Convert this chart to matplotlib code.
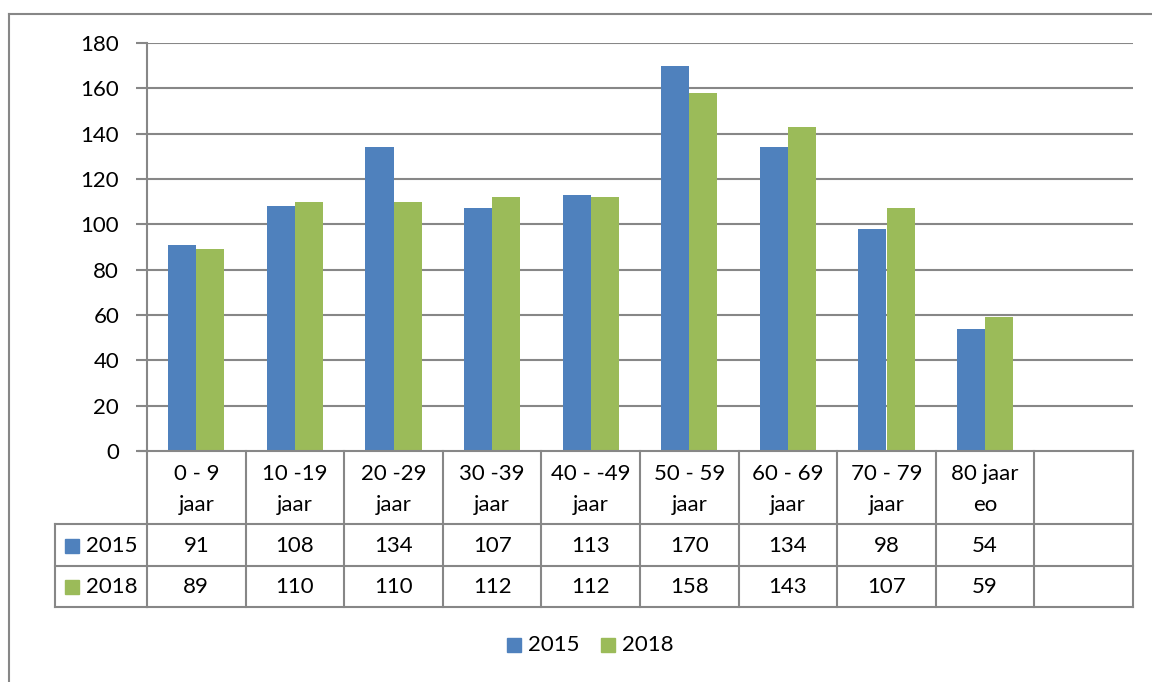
import matplotlib
matplotlib.use("Agg")
import matplotlib.pyplot as plt
from matplotlib.transforms import blended_transform_factory
from matplotlib.lines import Line2D
from matplotlib.patches import Rectangle

categories = ["0 - 9\njaar", "10 -19\njaar", "20 -29\njaar", "30 -39\njaar", "40 - -49\njaar",
              "50 - 59\njaar", "60 - 69\njaar", "70 - 79\njaar", "80 jaar\neo"]
v2015 = [91, 108, 134, 107, 113, 170, 134, 98, 54]
v2018 = [89, 110, 110, 112, 112, 158, 143, 107, 59]
series_names = ["2015", "2018"]
colors = ["#4F81BD", "#9BBB59"]
yticks = [0, 20, 40, 60, 80, 100, 120, 140, 160, 180]

W, H = 1152, 682
plt.rcParams['font.family'] = ['Lato', 'DejaVu Sans']
FS = 16
GRID = "#878787"

fig = plt.figure(figsize=(W / 100, H / 100), dpi=100)

def fy(py):
    return 1 - py / H

def fx(px):
    return px / W

ax_l, ax_r, ax_t, ax_b = 147, 1133, 43, 451
ax = fig.add_axes([fx(ax_l), fy(ax_b), fx(ax_r) - fx(ax_l), fy(ax_t) - fy(ax_b)])
nslots = len(categories) + 1
ax.set_xlim(-0.5, nslots - 0.5)
ax.set_ylim(0, 180)

bw = 0.284
xs = list(range(len(categories)))
ax.bar([x - bw / 2 for x in xs], v2015, bw, color=colors[0], zorder=3)
ax.bar([x + bw / 2 for x in xs], v2018, bw, color=colors[1], zorder=3)

ax.set_yticks(yticks)
ax.set_yticklabels([str(t) for t in yticks], fontsize=FS)
ax.tick_params(axis='y', length=8, width=1.5, color=GRID, pad=12)
ax.set_xticks([])
for t in yticks[1:]:
    ax.axhline(t, color=GRID, lw=1.5, zorder=1)
for s in ["top", "right", "bottom"]:
    ax.spines[s].set_visible(False)
ax.spines["left"].set_color(GRID)
ax.spines["left"].set_linewidth(1.5)

# data table
tr = blended_transform_factory(ax.transData, fig.transFigure)
row_y = [451, 524, 566, 607]
for k in range(nslots + 1):
    x = -0.5 + k
    fig.add_artist(Line2D([x, x], [fy(row_y[0]), fy(row_y[-1])], transform=tr, color=GRID, lw=1.5))
for py in row_y:
    fig.add_artist(Line2D([-0.5, nslots - 0.5], [fy(py), fy(py)], transform=tr, color=GRID, lw=1.5))
# header column lines
for py in [524, 566, 607]:
    fig.add_artist(Line2D([fx(55), fx(ax_l)], [fy(py), fy(py)], transform=fig.transFigure, color=GRID, lw=1.5))
fig.add_artist(Line2D([fx(55), fx(55)], [fy(524), fy(607)], transform=fig.transFigure, color=GRID, lw=1.5))
fig.add_artist(Line2D([fx(ax_l - 8), fx(ax_l)], [fy(451), fy(451)], transform=fig.transFigure, color=GRID, lw=1.5))

for i, c in enumerate(categories):
    l1, l2 = c.split("\n")
    fig.text(i, fy(474), l1, transform=tr, ha="center", va="center", fontsize=FS)
    fig.text(i, fy(505), l2, transform=tr, ha="center", va="center", fontsize=FS)
    fig.text(i, fy(546), str(v2015[i]), transform=tr, ha="center", va="center", fontsize=FS)
    fig.text(i, fy(587), str(v2018[i]), transform=tr, ha="center", va="center", fontsize=FS)

for name, col, py in zip(series_names, colors, [546, 587]):
    fig.add_artist(Rectangle((fx(65), fy(py + 7)), fx(14), fy(0) - fy(14), transform=fig.transFigure,
                             color=col))
    fig.text(fx(86), fy(py), name, ha="left", va="center", fontsize=FS)

# bottom legend
for name, col, px in zip(series_names, colors, [507, 601]):
    fig.add_artist(Rectangle((fx(px), fy(652)), fx(14), fy(0) - fy(14), transform=fig.transFigure,
                             color=col))
    fig.text(fx(px + 21), fy(645), name, ha="left", va="center", fontsize=FS)

# outer border
fig.add_artist(Line2D([fx(9), 1], [fy(14), fy(14)], transform=fig.transFigure, color=GRID, lw=1.5))
fig.add_artist(Line2D([fx(9), fx(9)], [fy(14), 0], transform=fig.transFigure, color=GRID, lw=1.5))

fig.savefig("out.png", dpi=100)
